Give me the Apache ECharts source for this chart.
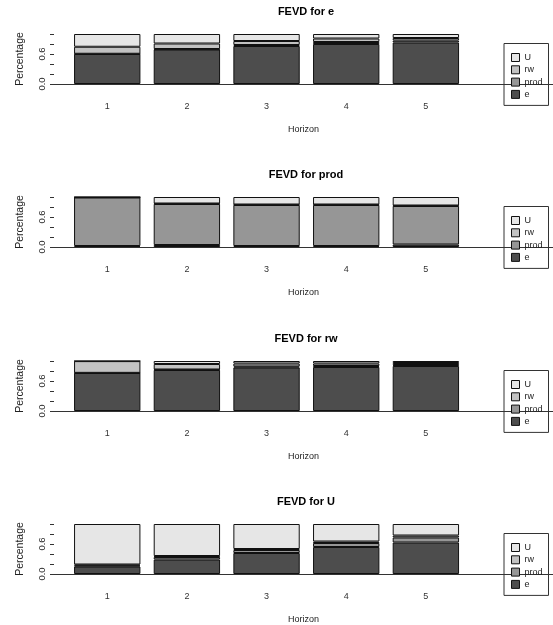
<!DOCTYPE html>
<html>
<head>
<meta charset="utf-8">
<script src="https://cdn.jsdelivr.net/npm/echarts@6/dist/echarts.min.js"></script>
<style>
  html, body { margin: 0; padding: 0; background: #fff; }
  #chart { width: 553px; height: 625px; }
</style>
</head>
<body>
<div id="chart"></div>
<script>
var horizons = ['1', '2', '3', '4', '5'];
var names = ['e', 'prod', 'rw', 'U'];
var colors = ['#4D4D4D', '#969696', '#C2C2C2', '#E6E6E6'];
var yTicks = ['0.0', '0.6'];

// FEVD for e
var e_e    = [0.60, 0.69, 0.76, 0.80, 0.83];
var e_prod = [0.005, 0.01, 0.02, 0.04, 0.04];
var e_rw   = [0.14, 0.11, 0.08, 0.07, 0.05];
var e_U    = [0.255, 0.19, 0.14, 0.09, 0.08];
// FEVD for prod
var prod_e    = [0.02, 0.04, 0.02, 0.02, 0.05];
var prod_prod = [0.97, 0.82, 0.82, 0.82, 0.77];
var prod_rw   = [0.005, 0.01, 0.01, 0.01, 0.01];
var prod_U    = [0.005, 0.13, 0.15, 0.15, 0.17];
// FEVD for rw
var rw_e    = [0.76, 0.82, 0.87, 0.88, 0.90];
var rw_prod = [0.003, 0.01, 0.02, 0.02, 0.02];
var rw_rw   = [0.235, 0.11, 0.06, 0.05, 0.04];
var rw_U    = [0.002, 0.06, 0.05, 0.05, 0.04];
// FEVD for U
var U_e    = [0.15, 0.29, 0.42, 0.54, 0.63];
var U_prod = [0.02, 0.05, 0.06, 0.08, 0.10];
var U_rw   = [0.02, 0.02, 0.02, 0.03, 0.04];
var U_U    = [0.81, 0.64, 0.50, 0.35, 0.23];

var panels = [
    {title: 'FEVD for e',    data: [e_e, e_prod, e_rw, e_U]},
    {title: 'FEVD for prod', data: [prod_e, prod_prod, prod_rw, prod_U]},
    {title: 'FEVD for rw',   data: [rw_e, rw_prod, rw_rw, rw_U]},
    {title: 'FEVD for U',    data: [U_e, U_prod, U_rw, U_U]}
];

var panelTops = [34, 197, 361, 524];
var plotH = 50;

var chart = echarts.init(document.getElementById('chart'));
var font = 'Liberation Sans, Arial, sans-serif';

var grid = [], xAxis = [], yAxis = [], series = [], title = [], legend = [];

for (var i = 0; i < panels.length; i++) {
    var pTop = panelTops[i];
    // bars grid
    grid.push({left: 67.4, width: 398.3, top: pTop, height: plotH});
    // axes grid (y axis + long baseline)
    grid.push({left: 54, width: 504, top: pTop, height: plotH});

    xAxis.push({
        type: 'category', gridIndex: 2 * i, data: horizons,
        axisLine: {show: false}, axisTick: {show: false},
        axisLabel: {margin: 18, fontSize: 9, color: '#333', fontFamily: font}
    });
    xAxis.push({
        type: 'value', gridIndex: 2 * i + 1, min: 0, max: 1,
        name: 'Horizon', nameLocation: 'middle', nameGap: 41,
        nameTextStyle: {fontSize: 9, color: '#222', fontFamily: font},
        axisLine: {show: true, onZero: false, lineStyle: {color: '#333', width: 1}},
        axisTick: {show: false}, axisLabel: {show: false}, splitLine: {show: false}
    });
    yAxis.push({
        type: 'value', gridIndex: 2 * i, min: 0, max: 1,
        show: false, splitLine: {show: false}
    });
    yAxis.push({
        type: 'value', gridIndex: 2 * i + 1, min: 0, max: 1, interval: 0.2,
        name: 'Percentage', nameLocation: 'middle', nameGap: 28,
        nameTextStyle: {fontSize: 10.5, color: '#222', fontFamily: font},
        axisLine: {show: false},
        axisTick: {show: true, length: 4, lineStyle: {color: '#333'}},
        axisLabel: {
            rotate: 90, margin: 7, fontSize: 9.5, color: '#222', fontFamily: font,
            formatter: function (v) {
                var s = v.toFixed(1);
                return yTicks.indexOf(s) >= 0 ? s : '';
            }
        },
        splitLine: {show: false}
    });

    for (var k = 0; k < names.length; k++) {
        series.push({
            name: names[k], type: 'bar', stack: 'p' + i,
            xAxisIndex: 2 * i, yAxisIndex: 2 * i,
            barCategoryGap: '16.7%',
            data: panels[i].data[k],
            itemStyle: {color: colors[k], borderColor: '#111', borderWidth: 1},
            emphasis: {disabled: true}
        });
    }

    title.push({
        text: panels[i].title, left: 306, textAlign: 'center', top: pTop - 28,
        padding: 0,
        textStyle: {fontSize: 11, fontWeight: 'bold', color: '#000', fontFamily: font}
    });

    legend.push({
        data: ['U', 'rw', 'prod', 'e'], orient: 'vertical',
        left: 504, top: pTop + 9.5, selectedMode: false,
        padding: [9, 6, 6, 7], itemGap: 2.3, itemWidth: 8, itemHeight: 8,
        icon: 'rect', borderColor: '#333', borderWidth: 1,
        itemStyle: {borderColor: '#111', borderWidth: 1},
        textStyle: {fontSize: 9, lineHeight: 10, color: '#222', fontFamily: font}
    });
}

chart.setOption({
    animation: false,
    backgroundColor: '#fff',
    title: title,
    legend: legend,
    grid: grid,
    xAxis: xAxis,
    yAxis: yAxis,
    series: series
});
</script>
</body>
</html>
